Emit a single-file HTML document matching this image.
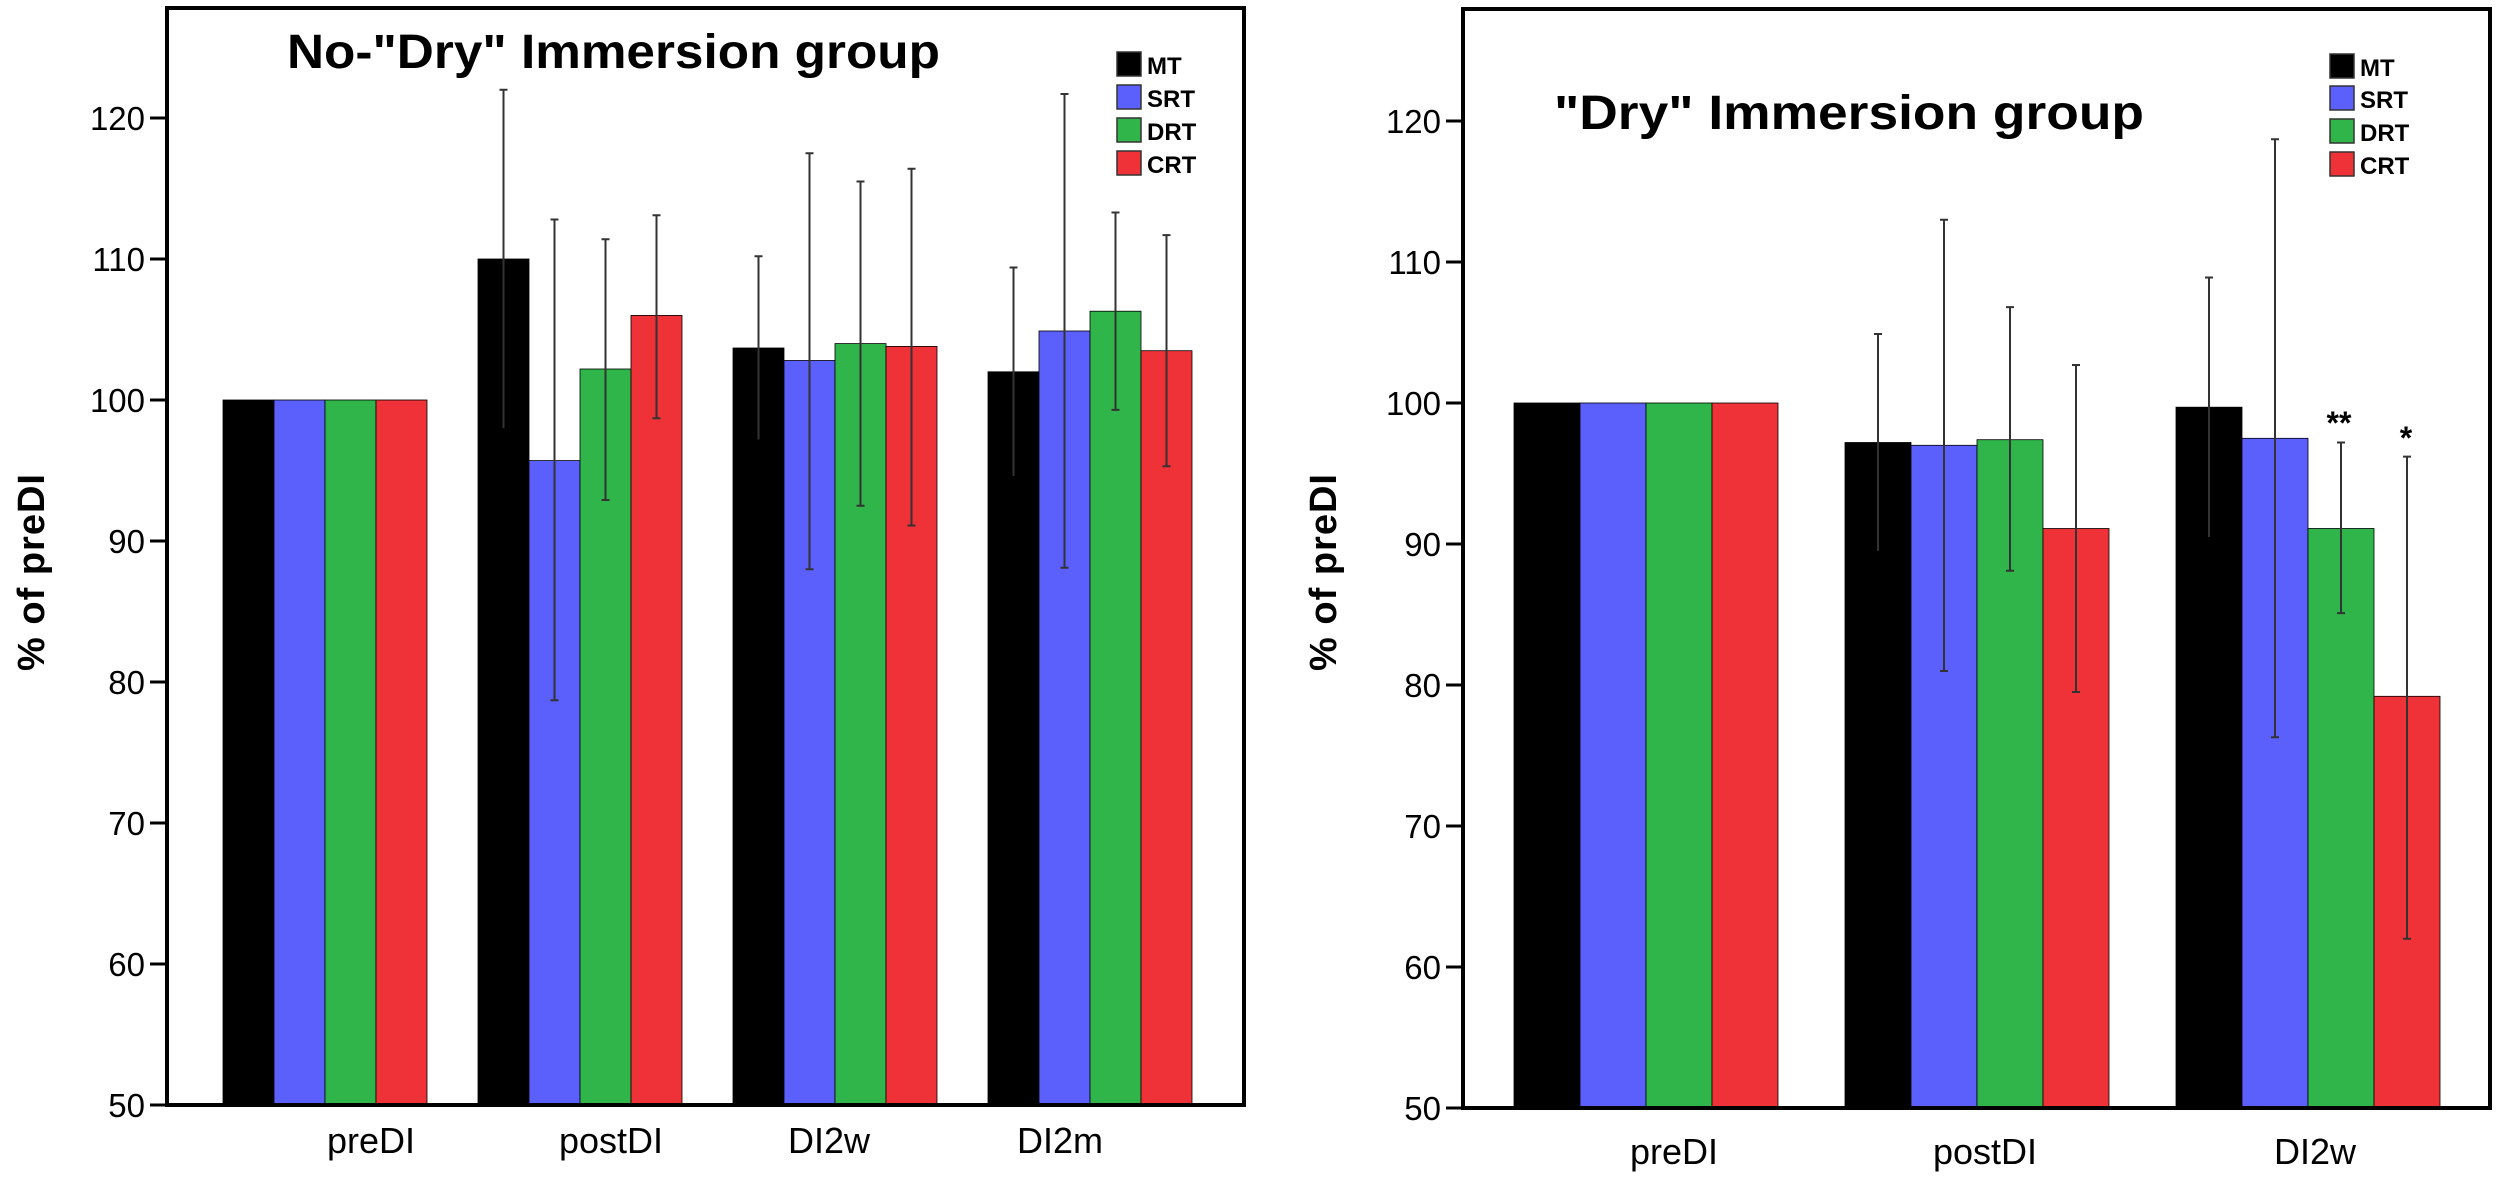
<!DOCTYPE html>
<html><head><meta charset="utf-8"><style>
html,body{margin:0;padding:0;background:#fff;}
svg{display:block;}
text{font-family:"Liberation Sans",sans-serif;}
.tk{font-size:33px;text-anchor:end;}
.cat{font-size:36px;text-anchor:middle;}
.lg{font-size:24px;font-weight:bold;}
.e{stroke:#333;stroke-width:2;}
</style></head><body>
<svg width="2500" height="1180" viewBox="0 0 2500 1180" xmlns="http://www.w3.org/2000/svg">
<rect width="2500" height="1180" fill="#fff"/>
<!-- LEFT CHART -->
<g stroke="#000" stroke-width="0.8">
<rect x="223" y="400" width="51" height="705" fill="#000"/>
<rect x="274" y="400" width="51" height="705" fill="#5b5ffb"/>
<rect x="325" y="400" width="51" height="705" fill="#2fb54a"/>
<rect x="376" y="400" width="51" height="705" fill="#ee3237"/>
<rect x="478" y="259" width="51" height="846" fill="#000"/>
<rect x="529" y="460.6" width="51" height="644.4" fill="#5b5ffb"/>
<rect x="580" y="369" width="51" height="736" fill="#2fb54a"/>
<rect x="631" y="315.4" width="51" height="789.6" fill="#ee3237"/>
<rect x="733" y="348" width="51" height="757" fill="#000"/>
<rect x="784" y="360.5" width="51" height="744.5" fill="#5b5ffb"/>
<rect x="835" y="343.6" width="51" height="761.4" fill="#2fb54a"/>
<rect x="886" y="346.4" width="51" height="758.6" fill="#ee3237"/>
<rect x="988" y="371.8" width="51" height="733.2" fill="#000"/>
<rect x="1039" y="331" width="51" height="774" fill="#5b5ffb"/>
<rect x="1090" y="311.2" width="51" height="793.8" fill="#2fb54a"/>
<rect x="1141" y="350.7" width="51" height="754.3" fill="#ee3237"/>
</g>
<g class="e">
<path d="M503.5 89.8V428.2M499.5 89.8h8"/>
<path d="M554.5 219.5V700.3M550.5 219.5h8M550.5 700.3h8"/>
<path d="M605.5 239.3V500M601.5 239.3h8M601.5 500h8"/>
<path d="M656.5 215.3V418.3M652.5 215.3h8M652.5 418.3h8"/>
<path d="M758.5 256.2V439.5M754.5 256.2h8"/>
<path d="M809.5 153.3V569.2M805.5 153.3h8M805.5 569.2h8"/>
<path d="M860.5 181.5V505.7M856.5 181.5h8M856.5 505.7h8"/>
<path d="M911.5 168.8V525.5M907.5 168.8h8M907.5 525.5h8"/>
<path d="M1013.5 267.5V476M1009.5 267.5h8"/>
<path d="M1064.5 94V567.8M1060.5 94h8M1060.5 567.8h8"/>
<path d="M1115.5 212.5V409.9M1111.5 212.5h8M1111.5 409.9h8"/>
<path d="M1166.5 235.1V466.3M1162.5 235.1h8M1162.5 466.3h8"/>
</g>
<rect x="167" y="8" width="1077" height="1097" fill="none" stroke="#000" stroke-width="4"/>
<g stroke="#000" stroke-width="3">
<path d="M150 1105h17M150 964h17M150 823h17M150 682h17M150 541h17M150 400h17M150 259h17M150 118h17"/>
</g>
<g class="tk">
<text x="145" y="1117">50</text><text x="145" y="976">60</text><text x="145" y="835">70</text><text x="145" y="694">80</text><text x="145" y="553">90</text><text x="145" y="412">100</text><text x="145" y="271">110</text><text x="145" y="130">120</text>
</g>
<text transform="translate(44,572) rotate(-90)" text-anchor="middle" font-size="38" font-weight="bold" letter-spacing="1">% of preDI</text>
<text x="287" y="68" font-size="48" font-weight="bold" textLength="653" lengthAdjust="spacingAndGlyphs">No-"Dry" Immersion group</text>
<g class="cat">
<text x="371" y="1153">preDI</text><text x="611" y="1153">postDI</text><text x="829" y="1153">DI2w</text><text x="1060" y="1153">DI2m</text>
</g>
<g stroke="#333" stroke-width="1.5">
<rect x="1117" y="52" width="24" height="24" fill="#000"/>
<rect x="1117" y="85" width="24" height="24" fill="#5b5ffb"/>
<rect x="1117" y="118" width="24" height="24" fill="#2fb54a"/>
<rect x="1117" y="151" width="24" height="24" fill="#ee3237"/>
</g>
<g class="lg">
<text x="1147" y="74">MT</text><text x="1147" y="107">SRT</text><text x="1147" y="140">DRT</text><text x="1147" y="173">CRT</text>
</g>

<!-- RIGHT CHART -->
<g stroke="#000" stroke-width="0.8">
<rect x="1514" y="403" width="66" height="705" fill="#000"/>
<rect x="1580" y="403" width="66" height="705" fill="#5b5ffb"/>
<rect x="1646" y="403" width="66" height="705" fill="#2fb54a"/>
<rect x="1712" y="403" width="66" height="705" fill="#ee3237"/>
<rect x="1845" y="442.5" width="66" height="665.5" fill="#000"/>
<rect x="1911" y="445.3" width="66" height="662.7" fill="#5b5ffb"/>
<rect x="1977" y="439.7" width="66" height="668.3" fill="#2fb54a"/>
<rect x="2043" y="528.5" width="66" height="579.5" fill="#ee3237"/>
<rect x="2176" y="407.2" width="66" height="700.8" fill="#000"/>
<rect x="2242" y="438.3" width="66" height="669.7" fill="#5b5ffb"/>
<rect x="2308" y="528.5" width="66" height="579.5" fill="#2fb54a"/>
<rect x="2374" y="696.3" width="66" height="411.7" fill="#ee3237"/>
</g>
<g class="e">
<path d="M1878 334V551M1874 334h8"/>
<path d="M1944 219.7V671M1940 219.7h8M1940 671h8"/>
<path d="M2010 307.1V570.8M2006 307.1h8M2006 570.8h8"/>
<path d="M2076 365V692M2072 365h8M2072 692h8"/>
<path d="M2209 277.5V537M2205 277.5h8"/>
<path d="M2275 139.3V737.2M2271 139.3h8M2271 737.2h8"/>
<path d="M2341 442.5V613.1M2337 442.5h8M2337 613.1h8"/>
<path d="M2407 456.6V938.8M2403 456.6h8M2403 938.8h8"/>
</g>
<rect x="1463" y="9" width="1027" height="1099" fill="none" stroke="#000" stroke-width="4"/>
<g stroke="#000" stroke-width="3">
<path d="M1446 1108h17M1446 967h17M1446 826h17M1446 685h17M1446 544h17M1446 403h17M1446 262h17M1446 121h17"/>
</g>
<g class="tk">
<text x="1441" y="1120">50</text><text x="1441" y="979">60</text><text x="1441" y="838">70</text><text x="1441" y="697">80</text><text x="1441" y="556">90</text><text x="1441" y="415">100</text><text x="1441" y="274">110</text><text x="1441" y="133">120</text>
</g>
<text transform="translate(1336,572) rotate(-90)" text-anchor="middle" font-size="38" font-weight="bold" letter-spacing="1">% of preDI</text>
<text x="1554" y="129" font-size="48" font-weight="bold" textLength="590" lengthAdjust="spacingAndGlyphs">"Dry" Immersion group</text>
<g class="cat">
<text x="1674" y="1164">preDI</text><text x="1985" y="1164">postDI</text><text x="2315" y="1164">DI2w</text>
</g>
<text x="2339" y="434" font-size="32" font-weight="bold" text-anchor="middle">**</text>
<text x="2406" y="449" font-size="32" font-weight="bold" text-anchor="middle">*</text>
<g stroke="#333" stroke-width="1.5">
<rect x="2330" y="54" width="24" height="24" fill="#000"/>
<rect x="2330" y="86" width="24" height="24" fill="#5b5ffb"/>
<rect x="2330" y="119" width="24" height="24" fill="#2fb54a"/>
<rect x="2330" y="152" width="24" height="24" fill="#ee3237"/>
</g>
<g class="lg">
<text x="2360" y="76">MT</text><text x="2360" y="108">SRT</text><text x="2360" y="141">DRT</text><text x="2360" y="174">CRT</text>
</g>
</svg>
</body></html>
